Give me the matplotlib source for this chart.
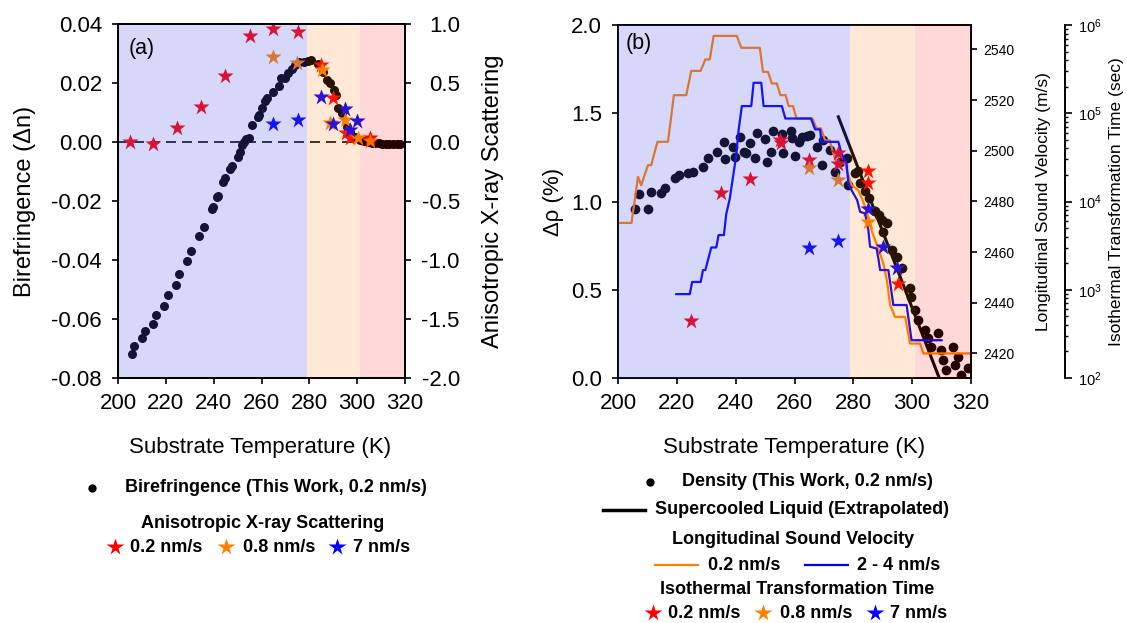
import numpy as np
import matplotlib
matplotlib.use('Agg')
import matplotlib.pyplot as plt
from matplotlib.lines import Line2D
from matplotlib.ticker import FormatStrFormatter, LogLocator, NullFormatter

plt.rcParams['font.family'] = ['Liberation Sans', 'DejaVu Sans']

# ---------------- data: panel (a) ----------------
bire_T = [205.9, 206.7, 210.2, 211.3, 214.7, 215.9, 219.3, 220.8, 224.1, 225.7,
          229.0, 230.7, 233.9, 236.0, 239.2, 239.8, 241.2, 241.8, 244.0, 244.9,
          246.7, 247.7, 250.2, 250.9, 251.9, 252.6, 253.7, 254.7, 256.1, 258.6,
          258.9, 260.4, 261.4, 262.1, 264.9, 267.4, 268.0, 269.8, 271.2, 272.6,
          274.0, 275.8, 277.9, 279.5, 280.9, 283.7, 285.8, 287.2, 288.6, 290.3,
          291.1, 292.1, 293.5, 295.6, 297.0, 299.1, 301.2, 303.0, 304.5, 306.0,
          307.5, 309.0, 310.5, 312.0, 313.5, 315.0, 316.5, 318.0]
bire_dn = [-0.0718, -0.0691, -0.0666, -0.0639, -0.0616, -0.0586, -0.0555, -0.0520, -0.0484, -0.0448,
           -0.0405, -0.0368, -0.0318, -0.0287, -0.0227, -0.0219, -0.0187, -0.0183, -0.0134, -0.0123,
           -0.0093, -0.0081, -0.0050, -0.0033, -0.0010, 0.0001, 0.0009, 0.0012, 0.0058, 0.0084,
           0.0092, 0.0114, 0.0140, 0.0148, 0.0170, 0.0190, 0.0216, 0.0218, 0.0233, 0.0246,
           0.0261, 0.0270, 0.0272, 0.0276, 0.0278, 0.0266, 0.0238, 0.0210, 0.0199, 0.0176,
           0.0159, 0.0114, 0.0097, 0.0052, 0.0035, 0.0018, 0.0007, 0.0003, 0.0001, -0.0003,
           -0.0004, -0.0005, -0.0006, -0.0007, -0.0007, -0.0008, -0.0007, -0.0008]

xray_T_02 = [205.0, 214.7, 224.8, 234.9, 244.7, 255.1, 264.9, 275.1, 284.9, 290.0, 295.5, 297.0, 305.3]
xray_02 = [0.0, -0.02, 0.12, 0.30, 0.56, 0.90, 0.96, 0.93, 0.65, 0.37, 0.08, 0.03, 0.03]
xray_T_08 = [264.9, 275.0, 285.3, 288.8, 295.0, 300.3, 305.3]
xray_08 = [0.72, 0.67, 0.61, 0.16, 0.19, 0.03, 0.01]
xray_T_7 = [264.9, 275.1, 284.9, 290.0, 295.0, 297.1, 300.0]
xray_7 = [0.15, 0.19, 0.38, 0.15, 0.28, 0.10, 0.18]

# ---------------- data: panel (b) ----------------
dens_T = [205.9, 207.0, 210.2, 211.3, 214.5, 215.9, 219.3, 220.6, 223.8, 225.5,
          228.9, 230.6, 233.8, 236.0, 236.3, 239.1, 239.7, 241.4, 242.8, 243.6,
          244.8, 246.5, 247.4, 249.9, 250.8, 251.9, 252.7, 255.6, 256.1, 258.7,
          259.0, 260.0, 261.6, 262.4, 264.1, 265.2, 267.5, 269.2, 269.8, 272.1,
          273.8, 275.5, 278.0, 278.3, 280.5, 281.7, 282.3, 283.8, 285.4, 287.4,
          288.8, 289.6, 290.2, 291.3, 293.0, 294.7, 296.4, 299.2, 299.6, 300.9,
          302.0, 304.3, 305.4, 306.5, 308.8, 309.9, 310.5, 311.6, 313.8, 314.4,
          315.5, 316.7, 318.9]
dens_rho = [0.956, 1.044, 0.960, 1.052, 1.050, 1.074, 1.131, 1.150, 1.163, 1.169,
            1.197, 1.245, 1.283, 1.339, 1.239, 1.307, 1.250, 1.367, 1.283, 1.273,
            1.330, 1.245, 1.390, 1.352, 1.226, 1.283, 1.401, 1.383, 1.273, 1.401,
            1.358, 1.258, 1.339, 1.364, 1.373, 1.377, 1.311, 1.207, 1.349, 1.292,
            1.166, 1.222, 1.245, 1.094, 1.160, 1.174, 1.103, 1.060, 1.018, 0.945,
            0.924, 0.895, 0.829, 0.880, 0.725, 0.687, 0.621, 0.508, 0.461, 0.385,
            0.329, 0.272, 0.225, 0.178, 0.253, 0.159, 0.102, 0.046, 0.178, 0.074,
            0.121, 0.017, 0.055]

scl_T = [274.9, 309.2]
scl_rho = [1.48, 0.0]

vel_T_02 = [200.0, 204.6, 206.8, 207.9, 210.2, 211.3, 213.4, 217.0, 219.0, 223.2,
            224.9, 228.1, 229.7, 231.2, 232.5, 240.4, 241.9, 248.2, 249.3, 251.0,
            252.3, 254.0, 255.2, 257.0, 258.0, 259.5, 260.7, 266.1, 267.5, 269.0,
            270.4, 272.0, 273.2, 274.4, 277.2, 278.3, 279.4, 281.7, 283.4, 284.7,
            286.2, 287.4, 289.1, 290.2, 291.4, 292.5, 294.2, 297.6, 299.3, 302.7,
            303.8, 320.0]
vel_02 = [2471.5, 2471.5, 2489.7, 2486.4, 2494.3, 2494.3, 2503.5, 2503.5, 2521.9, 2521.9,
          2531.5, 2531.5, 2536.0, 2536.0, 2545.3, 2545.3, 2540.6, 2540.6, 2531.1, 2531.1,
          2526.5, 2526.5, 2521.9, 2521.9, 2517.6, 2517.6, 2512.7, 2512.7, 2508.8, 2508.8,
          2504.1, 2504.1, 2498.9, 2495.0, 2495.0, 2490.3, 2486.4, 2484.4, 2479.8, 2475.2,
          2468.6, 2464.7, 2459.4, 2455.5, 2448.9, 2439.1, 2434.4, 2434.4, 2423.9, 2423.9,
          2420.0, 2420.0]
vel_T_24 = [219.8, 224.4, 225.2, 228.1, 228.9, 229.7, 231.7, 233.4, 234.2, 236.0,
            236.8, 238.0, 239.1, 240.2, 241.0, 242.1, 245.3, 246.1, 248.7, 249.5,
            255.7, 256.9, 265.6, 267.0, 268.7, 269.2, 274.9, 276.0, 277.7, 278.3,
            279.4, 281.3, 282.3, 284.0, 285.1, 285.7, 287.9, 288.5, 289.1, 291.9,
            293.6, 298.1, 299.8, 310.0]
vel_24 = [2443.4, 2443.4, 2448.2, 2448.2, 2452.9, 2452.9, 2461.8, 2461.8, 2466.7, 2466.7,
          2475.0, 2481.1, 2489.7, 2498.2, 2508.1, 2517.6, 2517.6, 2526.8, 2526.8, 2517.6,
          2517.6, 2512.7, 2512.7, 2508.4, 2508.4, 2503.5, 2503.5, 2498.9, 2495.0, 2487.1,
          2484.4, 2480.5, 2475.9, 2475.2, 2468.6, 2462.1, 2461.4, 2457.5, 2452.9, 2452.9,
          2439.1, 2439.1, 2425.2, 2425.2]

itt_T_02 = [224.9, 234.9, 245.0, 255.2, 255.4, 265.0, 274.9, 274.9, 284.9, 284.9, 295.1]
itt_02 = [447, 12600, 17800, 50100, 45700, 29500, 35500, 26900, 22400, 16200, 1175]
itt_T_08 = [265.0, 274.9, 284.9]
itt_08 = [24000, 17400, 5900]
itt_T_7 = [265.0, 274.9, 284.9, 290.0, 295.0]
itt_7 = [2950, 3550, 8130, 3020, 1780]

# temperature regions (shading)
region_edges = [200, 279, 301, 320]
region_colors = ['#5557e9', '#ff7700', '#ff0000']
region_alpha = [0.23, 0.16, 0.15]

W, H = 1127, 623
RED, ORANGE, BLUE = '#ff0000', '#ff8000', '#0000ff'

fig = plt.figure(figsize=(W / 100, H / 100), dpi=100)


def fx(px):
    return px / W


def fy(py):
    return 1 - py / H


def shade(ax):
    for i in range(3):
        ax.axvspan(region_edges[i], region_edges[i + 1], color=region_colors[i],
                   alpha=region_alpha[i], lw=0, zorder=5)


def style(ax):
    for s in ax.spines.values():
        s.set_linewidth(1.4)
        s.set_zorder(10)
    ax.tick_params(direction='out', length=4.5, width=1.2, labelsize=16)


# ================= panel (a) =================
ax1 = fig.add_axes([fx(118), fy(378), 287 / W, 354 / H])
style(ax1)
ax1.plot(bire_T, bire_dn, 'o', color='black', ms=6.5, mec='none', zorder=3)
ax1.axhline(0, color='black', lw=1.2, dashes=(6, 3.6), zorder=2)
ax1.set_xlim(200, 320)
ax1.set_ylim(-0.08, 0.04)
ax1.set_xticks(np.arange(200, 321, 20))
ax1.set_yticks(np.arange(-0.08, 0.041, 0.02))
ax1.yaxis.set_major_formatter(FormatStrFormatter('%.2f'))
ax1.tick_params(axis='y', pad=7)
ax1.tick_params(axis='x', pad=6)
ax1.set_ylabel('Birefringence (Δn)', fontsize=17)
ax1.yaxis.set_label_coords(-0.286, 0.5)
ax1.set_xlabel('Substrate Temperature (K)', fontsize=16)
ax1.xaxis.set_label_coords(0.495, -0.167)

ax1b = ax1.twinx()
style(ax1b)
ax1b.plot(xray_T_02, xray_02, '*', color=RED, ms=12, mec='none', zorder=3)
ax1b.plot(xray_T_08, xray_08, '*', color=ORANGE, ms=12, mec='none', zorder=3)
ax1b.plot(xray_T_7, xray_7, '*', color=BLUE, ms=12, mec='none', zorder=3)
ax1b.set_ylim(-2.0, 1.0)
ax1b.set_yticks(np.arange(-2.0, 1.01, 0.5))
ax1b.yaxis.set_major_formatter(FormatStrFormatter('%.1f'))
ax1b.tick_params(axis='y', pad=35)
for t in ax1b.get_yticklabels():
    t.set_ha('right')
ax1b.set_ylabel('Anisotropic X-ray Scattering', fontsize=17)
ax1b.yaxis.set_label_coords(1.268, 0.5)
shade(ax1b)
ax1b.text(0.036, 0.931, '(a)', transform=ax1b.transAxes, fontsize=15.5,
          ha='left', va='center', zorder=12)

# ================= panel (b) =================
ax2 = fig.add_axes([fx(618), fy(378), 353 / W, 353 / H])
style(ax2)
ax2.plot(dens_T, dens_rho, 'o', color='black', ms=7, mec='none', zorder=3)
ax2.plot(scl_T, scl_rho, '-', color='black', lw=2.2, zorder=4)
ax2.set_xlim(200, 320)
ax2.set_ylim(0, 2.0)
ax2.set_xticks(np.arange(200, 321, 20))
ax2.set_yticks(np.arange(0, 2.01, 0.5))
ax2.yaxis.set_major_formatter(FormatStrFormatter('%.1f'))
ax2.tick_params(axis='y', pad=7)
ax2.tick_params(axis='x', pad=6)
ax2.set_ylabel('Δρ (%)', fontsize=16)
ax2.yaxis.set_label_coords(-0.153, 0.5)
ax2.set_xlabel('Substrate Temperature (K)', fontsize=16)
ax2.xaxis.set_label_coords(0.5, -0.167)

axv = ax2.twinx()
style(axv)
axv.plot(vel_T_02, vel_02, '-', color=ORANGE, lw=1.6, zorder=3)
axv.plot(vel_T_24, vel_24, '-', color=BLUE, lw=1.6, zorder=3)
axv.set_ylim(2410.3, 2549.6)
axv.set_yticks(np.arange(2420, 2541, 20))
axv.tick_params(axis='y', labelsize=10, pad=4)
axv.set_ylabel('Longitudinal Sound Velocity (m/s)', fontsize=12.5)
axv.yaxis.set_label_coords(1.184, 0.5)

axt = ax2.twinx()
style(axt)
for s in ['top', 'bottom', 'left']:
    axt.spines[s].set_visible(False)
axt.spines['right'].set_position(('axes', 1 + 94 / 353))
axt.set_yscale('log')
axt.plot(itt_T_02, itt_02, '*', color=RED, ms=12, mec='none', zorder=3)
axt.plot(itt_T_08, itt_08, '*', color=ORANGE, ms=12, mec='none', zorder=3)
axt.plot(itt_T_7, itt_7, '*', color=BLUE, ms=12, mec='none', zorder=3)
axt.set_ylim(1e2, 1e6)
axt.yaxis.set_major_locator(LogLocator(base=10, numticks=10))
axt.yaxis.set_minor_locator(LogLocator(base=10, subs=np.arange(2, 10), numticks=10))
axt.yaxis.set_minor_formatter(NullFormatter())
axt.tick_params(axis='y', which='major', labelsize=10.5, length=5, pad=4)
axt.tick_params(axis='y', which='minor', direction='out', length=2.5, width=1.0)
axt.set_ylabel('Isothermal Transformation Time (sec)', fontsize=12.5)
axt.yaxis.set_label_coords(1.391, 0.5)
shade(axt)
axt.text(0.023, 0.948, '(b)', transform=axt.transAxes, fontsize=15.5,
         ha='left', va='center', zorder=12)

# ================= legends (figure coordinates) =================
LEG = dict(fontsize=13, fontweight='bold', va='center')


def leg_marker(x, y, marker, color, ms):
    fig.add_artist(Line2D([fx(x)], [fy(y)], marker=marker, color=color, ms=ms,
                          mec='none', transform=fig.transFigure))


def leg_line(x0, x1, y, color, lw):
    fig.add_artist(Line2D([fx(x0), fx(x1)], [fy(y), fy(y)], color=color, lw=lw,
                          transform=fig.transFigure))


# panel (a)
leg_marker(92, 488, 'o', 'black', 6)
fig.text(fx(125), fy(488), 'Birefringence (This Work, 0.2 nm/s)', ha='left', **LEG)
fig.text(fx(263), fy(523), 'Anisotropic X-ray Scattering', ha='center', **LEG)
for xm, xt, c, lab in [(115, 130, RED, '0.2 nm/s'), (226, 243, ORANGE, '0.8 nm/s'),
                       (337, 353, BLUE, '7 nm/s')]:
    leg_marker(xm, 547, '*', c, 13)
    fig.text(fx(xt), fy(547), lab, ha='left', **LEG)

# panel (b)
leg_marker(650, 482, 'o', 'black', 6)
fig.text(fx(682), fy(482), 'Density (This Work, 0.2 nm/s)', ha='left', **LEG)
leg_line(603, 645, 510, 'black', 2.5)
fig.text(fx(655), fy(510), 'Supercooled Liquid (Extrapolated)', ha='left', **LEG)
fig.text(fx(793), fy(539), 'Longitudinal Sound Velocity', ha='center', **LEG)
leg_line(655, 698, 565, ORANGE, 1.6)
fig.text(fx(708), fy(565), '0.2 nm/s', ha='left', **LEG)
leg_line(805, 848, 565, BLUE, 1.6)
fig.text(fx(857), fy(565), '2 - 4 nm/s', ha='left', **LEG)
fig.text(fx(797), fy(590), 'Isothermal Transformation Time', ha='center', **LEG)
for xm, xt, c, lab in [(653, 668, RED, '0.2 nm/s'), (763, 780, ORANGE, '0.8 nm/s'),
                       (875, 890, BLUE, '7 nm/s')]:
    leg_marker(xm, 613, '*', c, 13)
    fig.text(fx(xt), fy(613), lab, ha='left', **LEG)

fig.savefig('out.png', dpi=100)
